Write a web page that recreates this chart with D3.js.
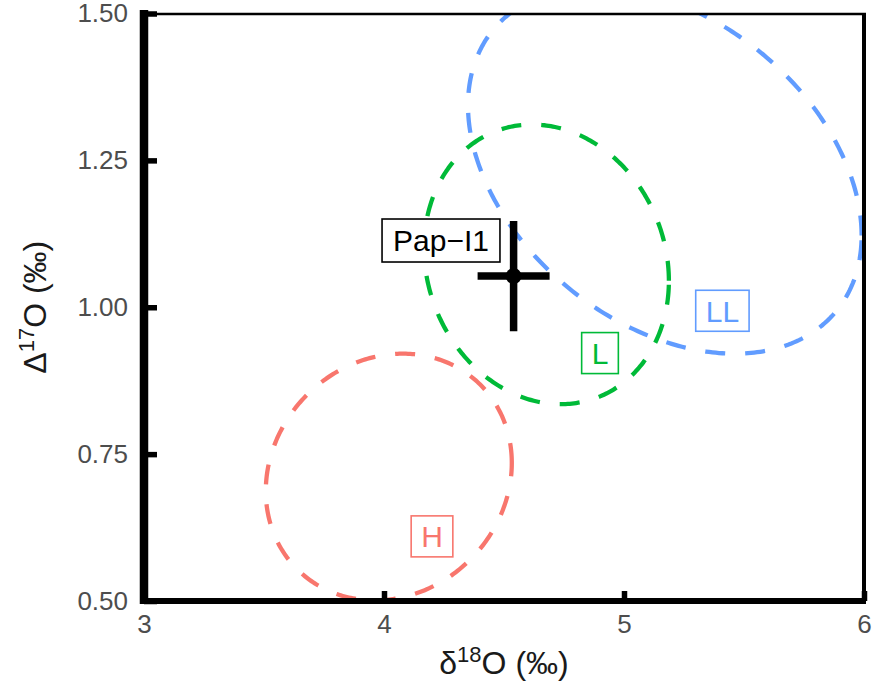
<!DOCTYPE html>
<html><head><meta charset="utf-8">
<script src="https://cdn.jsdelivr.net/npm/d3@7"></script>
<style>body{margin:0;background:#fff}svg{display:block}</style>
</head><body><svg id="c" width="872" height="687"></svg>
<script>
// ---- data ----
const groups = ["H", "L", "LL"];
const groupColors = ["#F8766D", "#00BA38", "#619CFF"];
const ellipseCx = [4.02, 4.677, 5.17];
const ellipseCy = [0.711, 1.073, 1.233];
const ellipseRx = [0.5125, 0.51, 0.82];
const ellipseRy = [0.21, 0.238, 0.312];
const ellipseTilt = [0.114, -0.118, -0.363];
const groupLabelX = [4.2, 4.9, 5.41];
const groupLabelY = [0.61, 0.922, 0.994];

const sampleName = ["Pap−I1"];
const sampleD18O = [4.54];
const sampleD17O = [1.053];
const sampleErrX = [0.15];
const sampleErrY = [0.094];
const sampleLabelX = [4.2375];
const sampleLabelY = [1.1136];

const xTicks = [3, 4, 5, 6];
const xTickLabels = ["3", "4", "5", "6"];
const yTicks = [0.5, 0.75, 1.0, 1.25, 1.5];
const yTickLabels = ["0.50", "0.75", "1.00", "1.25", "1.50"];

// ---- chart ----
const FONT = "'Liberation Sans', Arial, Helvetica, sans-serif";
const svg = d3.select("#c");
const L = 144, R = 864, T = 13.5, B = 601;
const x = d3.scaleLinear().domain([3, 6]).range([L, R]);
const y = d3.scaleLinear().domain([0.5, 1.5]).range([B, T]);

svg.append("defs").append("clipPath").attr("id", "clip")
  .append("rect").attr("x", L).attr("y", T).attr("width", R - L).attr("height", B - T);

// ellipses
const plot = svg.append("g").attr("clip-path", "url(#clip)");
const tSteps = d3.range(0, 2 * Math.PI + 0.001, Math.PI / 180);
groups.forEach((g, i) => {
  const line = d3.line()
    .x(t => x(ellipseCx[i] + ellipseRx[i] * Math.cos(t)))
    .y(t => y(ellipseCy[i] + ellipseRy[i] * Math.sin(t + ellipseTilt[i])));
  plot.append("path").attr("d", line(tSteps))
    .attr("fill", "none").attr("stroke", groupColors[i])
    .attr("stroke-width", 4.3).attr("stroke-dasharray", "20,20");
});

// axes
const yAxis = d3.axisLeft(y).tickValues(yTicks).tickFormat((d, i) => yTickLabels[i])
  .tickSizeInner(-13).tickSizeOuter(0).tickPadding(16);
const xAxis = d3.axisBottom(x).tickValues(xTicks).tickFormat((d, i) => xTickLabels[i])
  .tickSizeInner(-10).tickSizeOuter(0).tickPadding(13.5);
const gy = svg.append("g").attr("transform", `translate(${L},0)`).call(yAxis);
const gx = svg.append("g").attr("transform", `translate(0,${B})`).call(xAxis);
[gx, gy].forEach(g => {
  g.select(".domain").remove();
  g.selectAll(".tick line").attr("stroke", "#000").attr("stroke-width", 5.5);
  g.selectAll(".tick text").attr("fill", "#4D4D4D").style("font-family", FONT).style("font-size", "26px");
});

// frame
svg.append("line").attr("x1", L).attr("x2", R + 2).attr("y1", 14).attr("y2", 14)
  .attr("stroke", "#000").attr("stroke-width", 2.5);
svg.append("line").attr("x1", R).attr("x2", R).attr("y1", 13).attr("y2", 604)
  .attr("stroke", "#000").attr("stroke-width", 4);
svg.append("line").attr("x1", 140).attr("x2", 866).attr("y1", B).attr("y2", B)
  .attr("stroke", "#000").attr("stroke-width", 6);
svg.append("line").attr("x1", L).attr("x2", L).attr("y1", 10).attr("y2", 604)
  .attr("stroke", "#000").attr("stroke-width", 8.5);

// axis titles
const xt = svg.append("text").attr("x", (L + R) / 2).attr("y", 674)
  .attr("text-anchor", "middle").attr("fill", "#1a1a1a")
  .style("font-family", FONT).style("font-size", "32px");
xt.append("tspan").text("δ");
xt.append("tspan").attr("dy", -12).style("font-size", "22px").text("18");
xt.append("tspan").attr("dy", 12).text("O (‰)");

const yt = svg.append("text").attr("transform", `translate(46,${(T + B) / 2}) rotate(-90)`)
  .attr("text-anchor", "middle").attr("fill", "#1a1a1a")
  .style("font-family", FONT).style("font-size", "32px");
yt.append("tspan").text("Δ");
yt.append("tspan").attr("dy", -12).style("font-size", "22px").text("17");
yt.append("tspan").attr("dy", 12).text("O (‰)");

// sample with error bars
sampleName.forEach((n, i) => {
  const cx = x(sampleD18O[i]), cy = y(sampleD17O[i]);
  svg.append("line").attr("x1", x(sampleD18O[i] - sampleErrX[i])).attr("x2", x(sampleD18O[i] + sampleErrX[i]))
    .attr("y1", cy).attr("y2", cy).attr("stroke", "#000").attr("stroke-width", 7.5);
  svg.append("line").attr("x1", cx).attr("x2", cx)
    .attr("y1", y(sampleD17O[i] - sampleErrY[i])).attr("y2", y(sampleD17O[i] + sampleErrY[i]))
    .attr("stroke", "#000").attr("stroke-width", 7.5);
  svg.append("circle").attr("cx", cx).attr("cy", cy).attr("r", 8).attr("fill", "#000");
});

// labels
function boxLabel(px, py, txt, color, fs, padX, h, sw) {
  const g = svg.append("g");
  const rect = g.append("rect");
  const t = g.append("text").attr("x", px).attr("y", py + 0.36 * fs)
    .attr("text-anchor", "middle").attr("fill", color)
    .style("font-family", FONT).style("font-size", fs + "px").text(txt);
  const w = t.node().getComputedTextLength() + 2 * padX;
  rect.attr("x", px - w / 2).attr("y", py - h / 2).attr("width", w).attr("height", h)
    .attr("fill", "#fff").attr("stroke", color).attr("stroke-width", sw);
}
sampleName.forEach((n, i) => boxLabel(x(sampleLabelX[i]), y(sampleLabelY[i]), n, "#000", 30, 11, 43, 1.6));
groups.forEach((g, i) => boxLabel(x(groupLabelX[i]), y(groupLabelY[i]), g, groupColors[i], 30, 10, 41, 1.6));
</script>
</body></html>
